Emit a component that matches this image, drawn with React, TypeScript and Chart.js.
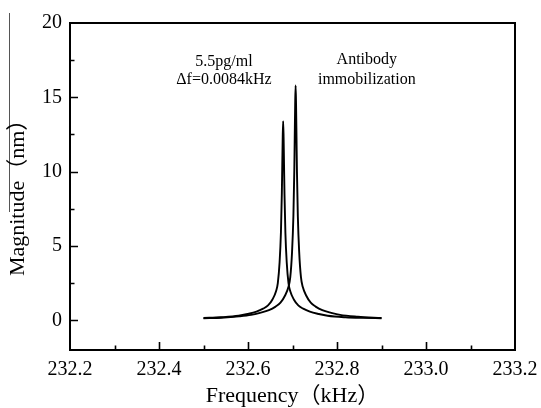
import React, { useEffect, useRef } from "react";
import { Chart, registerables } from "chart.js";

Chart.register(...registerables);

// Curve after 5.5 pg/ml detection (left peak)
const freqDetect = [
  232.5, 232.539, 232.579, 232.599, 232.619, 232.634, 232.645, 232.655, 232.663, 232.667,
  232.671, 232.674, 232.676, 232.677, 232.678, 232.679, 232.68, 232.681, 232.682, 232.684,
  232.687, 232.691, 232.695, 232.703, 232.713, 232.724, 232.739, 232.759, 232.779, 232.819,
  232.859, 232.9,
];
const magDetect = [
  0.15, 0.2, 0.3, 0.42, 0.58, 0.78, 1.0, 1.4, 1.95, 2.5,
  3.9, 5.9, 8.5, 10.4, 12.3, 13.4, 12.3, 10.4, 8.5, 5.9,
  3.9, 2.5, 1.95, 1.4, 1.0, 0.78, 0.58, 0.42, 0.3, 0.2,
  0.16, 0.14,
];

// Curve after antibody immobilization (right peak)
const freqAntibody = [
  232.5, 232.54, 232.58, 232.607, 232.627, 232.647, 232.662, 232.673, 232.683, 232.691,
  232.695, 232.699, 232.702, 232.704, 232.705, 232.706, 232.707, 232.708, 232.709, 232.71,
  232.712, 232.715, 232.719, 232.723, 232.731, 232.741, 232.752, 232.767, 232.787, 232.807,
  232.847, 232.9,
];
const magAntibody = [
  0.13, 0.17, 0.26, 0.36, 0.5, 0.68, 0.92, 1.18, 1.65, 2.25,
  2.9, 4.6, 7.0, 10.0, 12.3, 14.5, 15.8, 14.5, 12.3, 10.0,
  7.0, 4.6, 2.9, 2.25, 1.65, 1.18, 0.92, 0.68, 0.5, 0.36,
  0.24, 0.15,
];

const xMajorTicks = [232.2, 232.4, 232.6, 232.8, 233.0, 233.2];
const xMinorTicks = [232.3, 232.5, 232.7, 232.9, 233.1];
const yMajorTicks = [0, 5, 10, 15, 20];
const yMinorTicks = [2.5, 7.5, 12.5, 17.5];

const xTitle = "Frequency（kHz）";
const yTitle = "Magnitude（nm）";
const noteDetect = ["5.5pg/ml", "Δf=0.0084kHz"];
const noteAntibody = ["Antibody", "immobilization"];

const SERIF = "'Liberation Serif', 'Noto Sans CJK SC', serif";

const framePlugin = {
  id: "frame",
  afterDraw(chart: any) {
    const { ctx, chartArea: a, scales } = chart;
    const x = scales.x;
    const y = scales.y;
    ctx.save();
    ctx.strokeStyle = "#000";
    ctx.lineWidth = 2;
    ctx.strokeRect(a.left, a.top, a.right - a.left, a.bottom - a.top);

    ctx.lineWidth = 1.6;
    ctx.beginPath();
    xMajorTicks.forEach((v) => {
      const p = Math.round(x.getPixelForValue(v)) + 0.5;
      if (p <= a.left + 2 || p >= a.right - 2) return;
      ctx.moveTo(p, a.bottom);
      ctx.lineTo(p, a.bottom - 8);
    });
    xMinorTicks.forEach((v) => {
      const p = Math.round(x.getPixelForValue(v)) + 0.5;
      ctx.moveTo(p, a.bottom);
      ctx.lineTo(p, a.bottom - 4.5);
    });
    yMajorTicks.forEach((v) => {
      const p = Math.round(y.getPixelForValue(v)) + 0.5;
      if (p <= a.top + 2 || p >= a.bottom - 2) return;
      ctx.moveTo(a.left, p);
      ctx.lineTo(a.left + 8, p);
    });
    yMinorTicks.forEach((v) => {
      const p = Math.round(y.getPixelForValue(v)) + 0.5;
      ctx.moveTo(a.left, p);
      ctx.lineTo(a.left + 4.5, p);
    });
    ctx.stroke();

    // faint scan line at far left of the original figure
    ctx.lineWidth = 1;
    ctx.strokeStyle = "#555";
    ctx.beginPath();
    ctx.moveTo(9.5, 13);
    ctx.lineTo(9.5, 212);
    ctx.stroke();

    ctx.fillStyle = "#000";
    // axis titles
    ctx.font = `22px ${SERIF}`;
    ctx.textAlign = "center";
    ctx.textBaseline = "alphabetic";
    ctx.fillText(xTitle, a.left + (a.right - a.left) * 0.5, 402);
    ctx.save();
    ctx.translate(24, a.top + (a.bottom - a.top) * 0.518);
    ctx.rotate(-Math.PI / 2);
    ctx.fillText(yTitle, 0, 0);
    ctx.restore();

    // annotations
    ctx.font = `16px ${SERIF}`;
    ctx.textBaseline = "middle";
    const dx = x.getPixelForValue(232.546);
    ctx.fillText(noteDetect[0], dx, y.getPixelForValue(17.38));
    ctx.fillText(noteDetect[1], dx, y.getPixelForValue(16.19));
    const ax = x.getPixelForValue(232.867);
    ctx.fillText(noteAntibody[0], ax, y.getPixelForValue(17.54));
    ctx.fillText(noteAntibody[1], ax, y.getPixelForValue(16.21));
    ctx.restore();
  },
};

export default function App() {
  const ref = useRef<HTMLCanvasElement | null>(null);

  useEffect(() => {
    if (!ref.current) return;
    const toPoints = (xs: number[], ys: number[]) => xs.map((v, i) => ({ x: v, y: ys[i] }));
    const lineStyle = {
      borderColor: "#000",
      borderWidth: 1.9,
      pointRadius: 0,
      fill: false,
      cubicInterpolationMode: "monotone" as const,
    };
    const chart = new Chart(ref.current, {
      type: "line",
      data: {
        datasets: [
          { label: "5.5pg/ml", data: toPoints(freqDetect, magDetect), ...lineStyle },
          { label: "Antibody immobilization", data: toPoints(freqAntibody, magAntibody), ...lineStyle },
        ],
      },
      options: {
        animation: false,
        responsive: false,
        devicePixelRatio: 1,
        layout: { padding: { left: 0, right: 26, top: 23, bottom: 0 } },
        plugins: { legend: { display: false }, tooltip: { enabled: false } },
        scales: {
          x: {
            type: "linear",
            min: 232.2,
            max: 233.2,
            grid: { display: false, drawTicks: false },
            border: { display: false },
            afterBuildTicks: (axis: any) => {
              axis.ticks = xMajorTicks.map((value) => ({ value }));
            },
            afterFit: (axis: any) => {
              axis.height = 58;
              axis.paddingLeft = 0;
              axis.paddingRight = 0;
            },
            ticks: {
              padding: 8,
              color: "#000",
              font: { family: SERIF, size: 20 },
              maxRotation: 0,
              callback: (v: any) => Number(v).toFixed(1),
            },
          },
          y: {
            type: "linear",
            min: -2,
            max: 20,
            grid: { display: false, drawTicks: false },
            border: { display: false },
            afterBuildTicks: (axis: any) => {
              axis.ticks = yMajorTicks.map((value) => ({ value }));
            },
            afterFit: (axis: any) => {
              axis.width = 70;
              axis.paddingTop = 0;
              axis.paddingBottom = 0;
            },
            ticks: {
              padding: 8,
              color: "#000",
              font: { family: SERIF, size: 20 },
              callback: (v: any) => String(v),
            },
          },
        },
      },
      plugins: [framePlugin],
    });
    return () => chart.destroy();
  }, []);

  return (
    <div style={{ position: "fixed", left: 0, top: 0, width: 541, height: 408, background: "#fff" }}>
      <canvas ref={ref} width={541} height={408} style={{ display: "block" }} />
    </div>
  );
}
